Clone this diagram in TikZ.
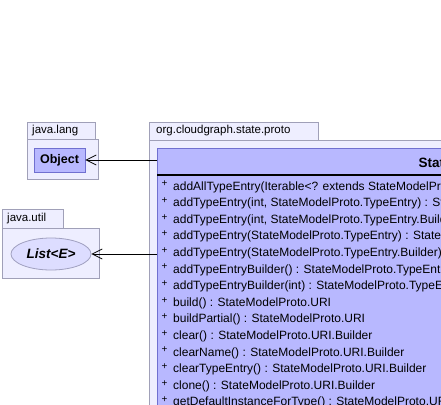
\documentclass[tikz,border=0pt]{standalone}
\usepackage{fontspec}
\setmainfont{Liberation Sans}
\usetikzlibrary{arrows.meta,shapes.geometric}
\definecolor{pkgfill}{HTML}{EEEEFF}
\definecolor{pkgline}{HTML}{A0A0B8}
\definecolor{clsfill}{HTML}{B8B8FF}
\definecolor{clsline}{HTML}{7070D0}
\definecolor{ellfill}{HTML}{DDDDFF}
\definecolor{ellline}{HTML}{A0A0C0}
\tikzset{
  pkg/.style={draw=pkgline, fill=pkgfill, line width=0.8pt},
  pkglabel/.style={anchor=west, inner sep=0pt, font=\fontsize{11.5}{12}\selectfont},
  member/.style={anchor=west, inner sep=0pt, font=\fontsize{12}{13}\selectfont},
  plus/.style={anchor=west, inner sep=0pt, font=\fontsize{10}{10}\selectfont},
  dep/.style={-{Straight Barb[length=10pt,width=10pt]}, line width=0.8pt}
}
\begin{document}
\begin{tikzpicture}[x=1pt,y=-1pt]
\useasboundingbox[fill=white] (0,0) rectangle (441,404);
\clip (0,0) rectangle (441,404);
% java.lang package
\draw[pkg] (27,122) rectangle (95,139);
\draw[pkg] (27,139) rectangle (98,179);
\node[pkglabel] (langlbl) at (32,130.5) {java.lang};
\node[draw=clsline, fill=clsfill, line width=0.8pt, minimum width=51pt, minimum height=24pt, inner sep=0pt, font=\fontsize{12.5}{13}\selectfont\bfseries] (obj) at (59.5,160) {Object};
% java.util package
\draw[pkg] (2,209) rectangle (63,228);
\draw[pkg] (2,228) rectangle (99,278);
\node[pkglabel] (utillbl) at (7,218.5) {java.util};
\node[ellipse, draw=ellline, fill=ellfill, line width=0.8pt, minimum width=80pt, minimum height=32pt, inner sep=0pt, font=\fontsize{13.5}{14}\selectfont\bfseries\itshape] (lst) at (51,254) {List<E>};
% org.cloudgraph.state.proto package
\draw[pkg] (149,122) rectangle (318,140);
\draw[pkg] (149,140) rectangle (470,430);
\node[pkglabel] (orglbl) at (156,131) {org.cloudgraph.state.proto};
% class box
\node[draw=clsline, fill=clsfill, line width=0.8pt, minimum width=320pt, minimum height=280pt, anchor=north west, inner sep=0pt] (cls) at (157,148) {};
\draw[line width=2pt] (157,175) -- (470,175);
\node[anchor=west, inner sep=0pt, font=\fontsize{13.5}{14}\selectfont\bfseries] (title) at (418.5,162.5) {StateModelProto.URI.Builder};
% members
\foreach \i/\t in {
 0/{addAllTypeEntry(Iterable<? extends StateModelProto},
 1/{addTypeEntry(int, StateModelProto.TypeEntry) : StateModelProto},
 2/{addTypeEntry(int, StateModelProto.TypeEntry.Builder},
 3/{addTypeEntry(StateModelProto.TypeEntry) : StateModelProto},
 4/{addTypeEntry(StateModelProto.TypeEntry.Builder) :},
 5/{addTypeEntryBuilder() : StateModelProto.TypeEntry},
 6/{addTypeEntryBuilder(int) : StateModelProto.TypeEntry},
 7/{build() : StateModelProto.URI},
 8/{buildPartial() : StateModelProto.URI},
 9/{clear() : StateModelProto.URI.Builder},
 10/{clearName() : StateModelProto.URI.Builder},
 11/{clearTypeEntry() : StateModelProto.URI.Builder},
 12/{clone() : StateModelProto.URI.Builder},
 13/{getDefaultInstanceForType() : StateModelProto.URI}} {
  \node[plus] (p\i) at (161.5,{184+16.6*\i}) {+};
  \node[member] (m\i) at (173,{187+16.6*\i}) {\t};
}
% dependencies
\draw[dep] (obj.east -| cls.west) -- (obj.east);
\draw[dep] (lst.east -| cls.west) -- (lst.east);
\end{tikzpicture}
\end{document}
